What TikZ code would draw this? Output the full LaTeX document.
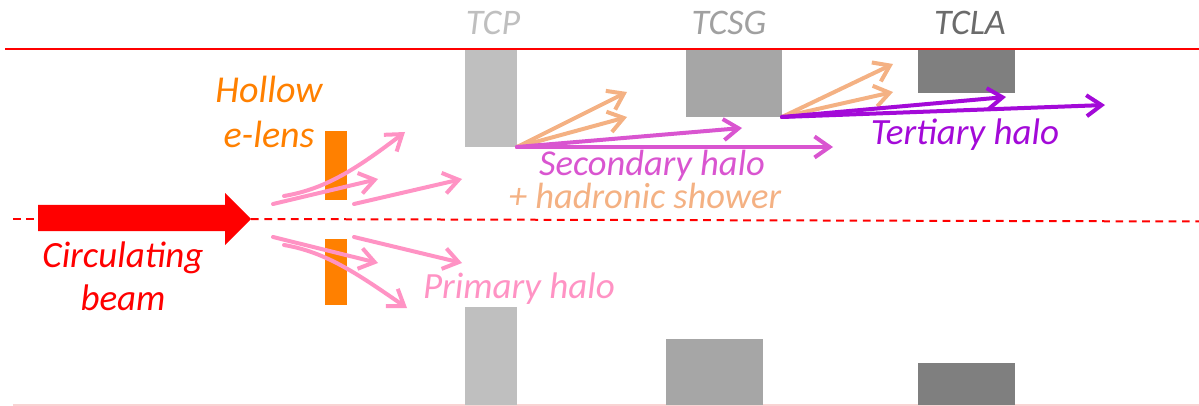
\documentclass[tikz,border=0pt]{standalone}
\usepackage{fontspec}
\setmainfont{Carlito}
\usetikzlibrary{arrows.meta}
\definecolor{beamred}{HTML}{FF0000}
\definecolor{lensorange}{HTML}{FF8000}
\definecolor{halopink}{HTML}{FF93C4}
\definecolor{secmag}{HTML}{D955D0}
\definecolor{peach}{HTML}{F4B183}
\definecolor{terpurple}{HTML}{A30AD8}
\definecolor{tcpgray}{HTML}{BFBFBF}
\definecolor{tcsggray}{HTML}{A6A6A6}
\definecolor{tclagray}{HTML}{7F7F7F}
\definecolor{tclatext}{HTML}{6B6B6B}
\definecolor{tcsgtext}{HTML}{A0A0A0}
\definecolor{bottomline}{HTML}{F9D3D3}
\begin{document}
\begin{tikzpicture}[x=1pt,y=-1pt,
  block/.style={anchor=north west, inner sep=0pt, outer sep=0pt, draw=none},
  lbl/.style={inner sep=0pt, outer sep=0pt, font=\itshape\fontsize{37}{43}\selectfont},
  collbl/.style={inner sep=0pt, outer sep=0pt, anchor=base, font=\itshape\fontsize{36}{40}\selectfont},
  halo/.style={line width=4pt, line cap=round, -{Straight Barb[length=15pt,width=21pt]}},
]
\useasboundingbox (0,0) rectangle (1199,406);

% bottom boundary line
\coordinate (bl) at (13,405);
\coordinate (br) at (1199,405);
\draw[bottomline, line width=1.5pt] (bl) -- (br);

% collimator blocks
\node[block, fill=tcpgray,  minimum width=52pt, minimum height=97pt] (tcpU)  at (465,50) {};
\node[block, fill=tcpgray,  minimum width=52pt, minimum height=98pt] (tcpL)  at (465,307) {};
\node[block, fill=tcsggray, minimum width=96pt, minimum height=67pt] (tcsgU) at (686,50) {};
\node[block, fill=tcsggray, minimum width=97pt, minimum height=66pt] (tcsgL) at (666,339) {};
\node[block, fill=tclagray, minimum width=97pt, minimum height=43pt] (tclaU) at (918,50) {};
\node[block, fill=tclagray, minimum width=97pt, minimum height=42pt] (tclaL) at (918,363) {};

% top red line
\coordinate (tl) at (5,49);
\coordinate (tr) at (1199,49);
\draw[beamred, line width=2.6pt] (tl) -- (tr);

% hollow e-lens bars
\node[block, fill=lensorange, minimum width=22pt, minimum height=69pt] (lensU) at (325,131) {};
\node[block, fill=lensorange, minimum width=22pt, minimum height=66pt] (lensL) at (325,239) {};

% circulating beam arrow and axis
\coordinate (tip) at (251,219);
\coordinate (axl1) at (13,219);
\coordinate (axl2) at (38,219);
\coordinate (axr) at (1199,221.5);
\draw[beamred, line width=2pt, dash pattern=on 7.7pt off 5.6pt] (axl1) -- (axl2);
\draw[beamred, line width=2pt, dash pattern=on 7.7pt off 5.6pt] (tip) -- (axr);
\fill[beamred] (38,205) -- (225,205) -- (225,193) -- (tip) -- (225,245) -- (225,231) -- (38,231) -- cycle;

% primary halo arrows
\coordinate (pa0) at (273,204);  \coordinate (pa1) at (378,179);
\coordinate (pb0) at (284,196);  \coordinate (pb1) at (405,132);
\coordinate (pc0) at (354,204);  \coordinate (pc1) at (462,179);
\coordinate (pd0) at (273,237);  \coordinate (pd1) at (378,263);
\coordinate (pe0) at (284,245);  \coordinate (pe1) at (407,308);
\coordinate (pf0) at (354,237);  \coordinate (pf1) at (462,263);
\draw[halo, halopink] (pa0) -- (pa1);
\draw[halo, halopink] (pb0) .. controls (325,189) and (355,170) .. (pb1);
\draw[halo, halopink] (pc0) -- (pc1);
\draw[halo, halopink] (pd0) -- (pd1);
\draw[halo, halopink] (pe0) .. controls (325,252) and (355,272) .. (pe1);
\draw[halo, halopink] (pf0) -- (pf1);

% secondary halo + shower
\coordinate (s1) at (627,92);
\coordinate (s2) at (627,117);
\coordinate (s3) at (742,128);
\coordinate (s4) at (833,147);
\draw[halo, peach] (tcpU.south east) -- (s1);
\draw[halo, peach] (tcpU.south east) -- (s2);
\draw[halo, secmag] (tcpU.south east) -- (s3);
\draw[halo, secmag] (tcpU.south east) -- (s4);

% tertiary halo + shower
\coordinate (t1) at (893,64);
\coordinate (t2) at (893,92);
\coordinate (t3) at (1006,97);
\coordinate (t4) at (1105,105);
\draw[halo, peach] (tcsgU.south east) -- (t1);
\draw[halo, peach] (tcsgU.south east) -- (t2);
\draw[halo, terpurple] (tcsgU.south east) -- (t3);
\draw[halo, terpurple] (tcsgU.south east) -- (t4);

% labels
\node[collbl, text=tcpgray]  (tcpT)  at (493,35) {TCP};
\node[collbl, text=tcsgtext] (tcsgT) at (729,35) {TCSG};
\node[collbl, text=tclatext] (tclaT) at (970,35) {TCLA};

\node[lbl, anchor=base, align=center, text=lensorange, font=\itshape\fontsize{38}{45}\selectfont] (lensT) at (269,148) {Hollow\\e-lens};
\node[lbl, anchor=base, align=center, text=beamred] (beamT) at (123,310) {Circulating\\beam};
\node[lbl, anchor=base west, text=halopink] (primT) at (423,298) {Primary halo};
\node[lbl, anchor=base, align=center, font=\itshape\fontsize{36.5}{31}\selectfont] (secT) at (645,208)
  {\hspace*{14pt}\textcolor{secmag}{Secondary halo}\\\textcolor{peach}{+ hadronic shower}};
\node[lbl, anchor=base, text=terpurple] (terT) at (965,145) {Tertiary halo};
\end{tikzpicture}
\end{document}
